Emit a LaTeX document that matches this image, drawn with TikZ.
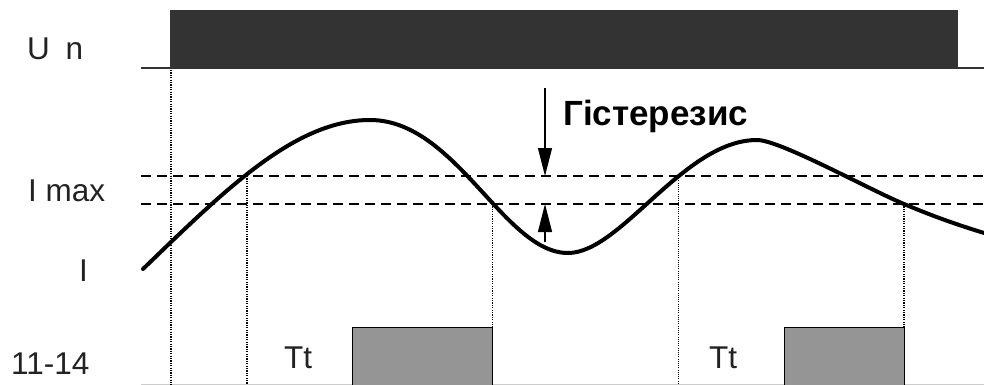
\documentclass[tikz,border=0pt]{standalone}
\usepackage{fontspec}
\setmainfont{Liberation Sans}
\usetikzlibrary{arrows.meta}
\definecolor{blockgray}{HTML}{333333}
\definecolor{pulsegray}{HTML}{959595}
\definecolor{labelgray}{HTML}{222222}
\tikzset{
  lbl/.style={anchor=base west, inner sep=0pt, text=labelgray, font=\fontsize{31.5}{31.5}\selectfont},
  thr/.style={line width=2.4pt, dash pattern=on 10pt off 6pt},
  vdot/.style={line width=1.4pt, dash pattern=on 1.2pt off 1.2pt},
  vdotthin/.style={line width=1pt, dash pattern=on 1pt off 1.2pt},
  pulse/.style={fill=pulsegray, draw=black, line width=1pt},
  harrow/.style={line width=1.2pt, -{Triangle[length=28pt,width=14pt]}},
}
\begin{document}
\begin{tikzpicture}[x=1pt,y=-1pt]
\useasboundingbox (0,0) rectangle (984,385);
% supply block
\fill[blockgray] (170,10) rectangle (958,69);
\draw[line width=2pt, color=blockgray] (141,68.5) -- (984,68.5);
% bottom baseline
\draw[line width=1.5pt, color=black!20] (141,384.5) -- (984,384.5);
% threshold lines
\draw[thr] (141,176) -- (984,176);
\draw[thr] (141,204) -- (984,204);
% vertical dotted lines
\draw[vdot] (171,70) -- (171,385);
\draw[vdot] (247,176) -- (247,385);
\draw[vdot] (492.5,204) -- (492.5,385);
\draw[vdotthin] (678,176) -- (678,385);
\draw[vdot] (904,204) -- (904,385);
% output pulses
\node[pulse, minimum width=140pt, minimum height=58pt, inner sep=0pt, anchor=north west] (p1) at (352,327) {};
\node[pulse, minimum width=120pt, minimum height=58pt, inner sep=0pt, anchor=north west] (p2) at (784,327) {};
% current curve
\draw[line width=4pt, line cap=round, line join=round]
  (143,269) .. controls (225,190) and (295,120) .. (370,120)
            .. controls (456,120) and (504,253) .. (568,253)
            .. controls (621,253) and (684,140) .. (757,140)
            .. controls (780,140) and (870,190) .. (904,204)
            .. controls (934,216.6) and (955,224) .. (984,233);
% hysteresis arrows
\coordinate (ha1) at (545,88);
\coordinate (hb1) at (545,176);
\coordinate (ha2) at (545,242);
\coordinate (hb2) at (545,204);
\draw[harrow] (ha1) -- (hb1);
\draw[harrow] (ha2) -- (hb2);
% labels
\node[lbl] (un) at (27,60) {U\hspace{0.5em}n};
\node[lbl] (imax) at (28,201) {I max};
\node[lbl] (i) at (79,281) {I};
\node[lbl] (out) at (11,374) {11-14};
\node[lbl] (tt1) at (284,368) {Tt};
\node[lbl] (tt2) at (709,368) {Tt};
\node[anchor=base west, inner sep=0pt, font=\fontsize{35}{35}\selectfont\bfseries] (hys) at (563,125) {Гістерезис};
\end{tikzpicture}
\end{document}
